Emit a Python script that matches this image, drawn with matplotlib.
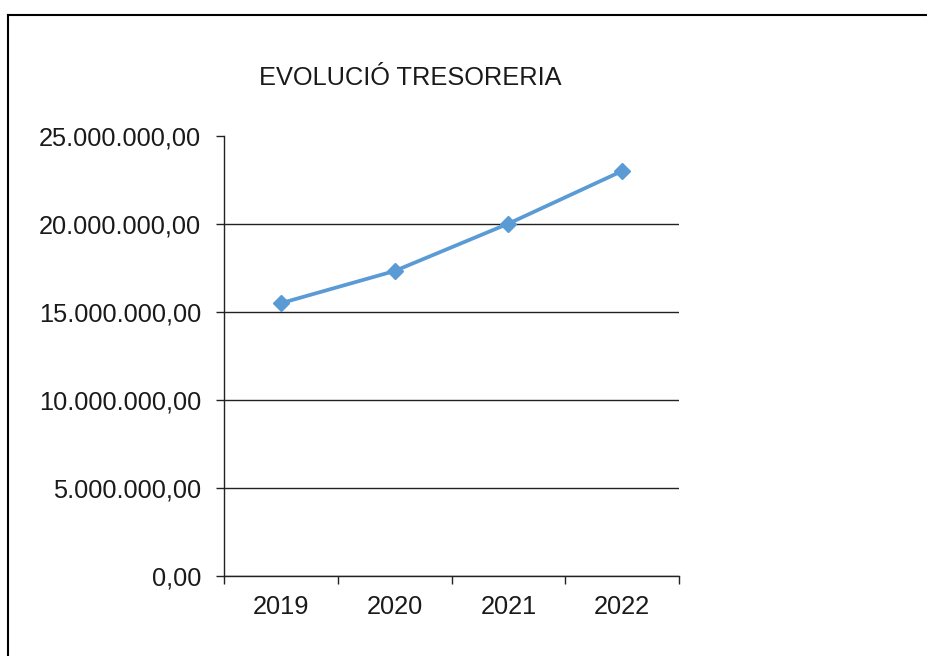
import matplotlib.pyplot as plt
from matplotlib.lines import Line2D
from matplotlib.ticker import FuncFormatter, FixedLocator

plt.rcParams['font.family'] = ['Liberation Sans', 'DejaVu Sans']

# data
years = ['2019', '2020', '2021', '2022']
tresoreria = [15500000, 17330000, 20020000, 23010000]
y_ticks = [0, 5000000, 10000000, 15000000, 20000000, 25000000]


def fmt_eur(v, pos=None):
    # 1234567.5 -> 1.234.567,50
    s = '{:,.2f}'.format(v)
    return s.replace(',', 'X').replace('.', ',').replace('X', '.')


fig = plt.figure(figsize=(9.28, 6.56), dpi=100)
ax = fig.add_axes([224/928, 1 - 576/656, 455/928, 440/656])

pos = list(range(len(years)))
ax.plot(pos, tresoreria, color='#5B9BD5', lw=2.7, marker='D', markersize=8.5,
        zorder=3, solid_capstyle='round')

ax.set_xlim(-0.5, len(years) - 0.5)
ax.set_ylim(0, 25000000)

# x: ticks on the category borders, labels in the middle
ax.xaxis.set_major_locator(FixedLocator([p - 0.5 for p in range(len(years) + 1)]))
ax.xaxis.set_minor_locator(FixedLocator(pos))
ax.set_xticklabels([], minor=False)
ax.set_xticklabels(years, minor=True)
ax.tick_params(axis='x', which='major', direction='out', length=6, width=1, color='#222222')
ax.tick_params(axis='x', which='minor', length=0, pad=14, labelsize=18.3, labelcolor='#1a1a1a')

ax.set_yticks(y_ticks)
ax.yaxis.set_major_formatter(FuncFormatter(fmt_eur))
ax.tick_params(axis='y', direction='out', length=5.5, width=1, pad=11,
               labelsize=18.3, labelcolor='#1a1a1a', color='#222222')

ax.yaxis.grid(True, color='#222222', lw=1)
ax.get_ygridlines()[-1].set_visible(False)
ax.set_axisbelow(True)

for s in ['top', 'right']:
    ax.spines[s].set_visible(False)
for s in ['left', 'bottom']:
    ax.spines[s].set_color('#222222')
    ax.spines[s].set_linewidth(1)

fig.text(410/928, 1 - 78/656, 'EVOLUCIÓ TRESORERIA', ha='center', va='center',
         fontsize=18.3, color='#1a1a1a')

# outer chart border (left and top edges visible)
bx = 8.5/928
by = 1 - 14.5/656
fig.add_artist(Line2D([bx, bx], [0, by], transform=fig.transFigure, color='black', lw=1.5))
fig.add_artist(Line2D([bx, 1], [by, by], transform=fig.transFigure, color='black', lw=1.5))

fig.savefig('out.png', dpi=100)
